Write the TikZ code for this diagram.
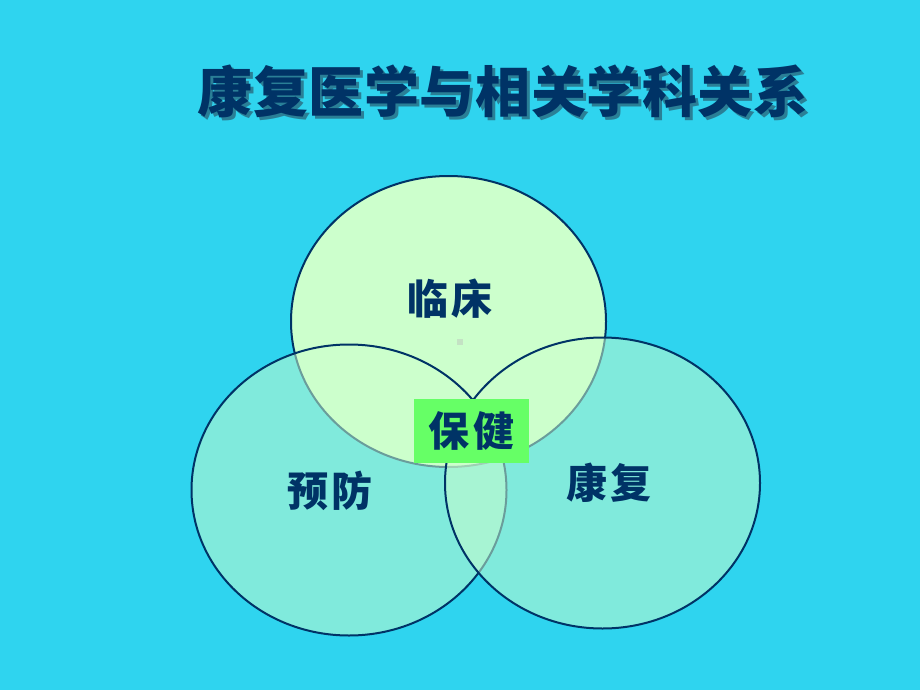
\documentclass[tikz,border=0pt]{standalone}
\usepackage{fontspec}
\usetikzlibrary{shapes.geometric}
\newfontfamily\cjk{Noto Sans CJK SC}
\definecolor{bg}{HTML}{2FD4EF}
\definecolor{navy}{HTML}{003366}
\definecolor{lg}{HTML}{CCFFCC}
\definecolor{boxg}{HTML}{66FF66}
\definecolor{shade}{HTML}{2A7F96}
\definecolor{dotc}{HTML}{C4E2C4}
\newcommand{\ttltext}{康\hspace{0.6pt}复\hspace{0.6pt}医\hspace{0.6pt}学\hspace{0.6pt}与\hspace{0.6pt}相\hspace{0.6pt}关\hspace{0.6pt}学\hspace{0.6pt}科\hspace{0.6pt}关\hspace{0.6pt}系}
\begin{document}
\begin{tikzpicture}[x=1pt,y=-1pt,
  circ/.style={ellipse, draw=navy, line width=2pt, fill=lg, minimum width=315pt, minimum height=291pt, inner sep=0pt},
  lab/.style={text=navy, font=\cjk\bfseries\fontsize{41}{41}\selectfont, inner sep=0pt},
  ttl/.style={font=\cjk\bfseries\fontsize{55}{55}\selectfont, inner sep=0pt}]
\fill[bg] (0,0) rectangle (920,690);
\node[circ] (top) at (448.5,321.5) {};
\node[circ, fill opacity=0.52] (left) at (349,490) {};
\node[circ, fill opacity=0.52] (right) at (602.5,483) {};
\node[fill=dotc, minimum size=6pt, inner sep=0pt] (dot) at (460,341.5) {};
\node[lab] (lc) at (450,299) {临\hspace{4pt}床};
\node[lab] (yf) at (330,491) {预\hspace{4pt}防};
\node[lab] (kf) at (609,483) {康\hspace{4pt}复};
\node[lab, fill=boxg, minimum width=115pt, minimum height=64pt] (bj) at (471.5,431) {保\hspace{4pt}健};
\node[ttl, text=navy] (title) at (503,93) {\rlap{\hspace{3pt}\raisebox{-3pt}{\textcolor{shade}{\ttltext}}}\ttltext};
\end{tikzpicture}
\end{document}
